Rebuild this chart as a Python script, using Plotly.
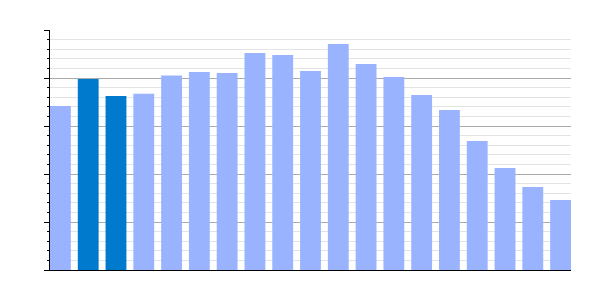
import plotly.graph_objects as go

categories = [str(i) for i in range(1, 20)]
values = [68.3, 79.6, 72.5, 73.4, 81.0, 82.5, 82.1, 90.4, 89.6, 82.9,
          94.2, 85.8, 80.4, 72.9, 66.7, 53.75, 42.5, 34.6, 29.2]
highlight = [False, True, True] + [False] * 16
light_color = "#99B3FF"
dark_color = "#007ACC"
colors = [dark_color if h else light_color for h in highlight]

fig = go.Figure(go.Bar(x=categories, y=values, marker=dict(color=colors, line=dict(width=0)),
                       hoverinfo="skip"))

fig.update_layout(
    width=600, height=300,
    margin=dict(l=50, r=29, t=30, b=30),
    paper_bgcolor="white", plot_bgcolor="white",
    bargap=0.25, showlegend=False,
)
fig.update_xaxes(
    type="category", range=[-0.375, 18.375],
    showticklabels=False, showgrid=False, ticks="",
    showline=True, linecolor="black", linewidth=1, zeroline=False,
)
fig.update_yaxes(
    range=[0, 100], dtick=20, showticklabels=False,
    showgrid=True, gridcolor="#ababab", gridwidth=1,
    ticks="outside", ticklen=5, tickcolor="black", tickwidth=1,
    showline=True, linecolor="black", linewidth=1, zeroline=False,
    minor=dict(dtick=4, showgrid=True, gridcolor="#e3e3e3", gridwidth=1,
               ticks="outside", ticklen=2, tickcolor="black", tickwidth=1),
)

fig.write_html("out.html")
